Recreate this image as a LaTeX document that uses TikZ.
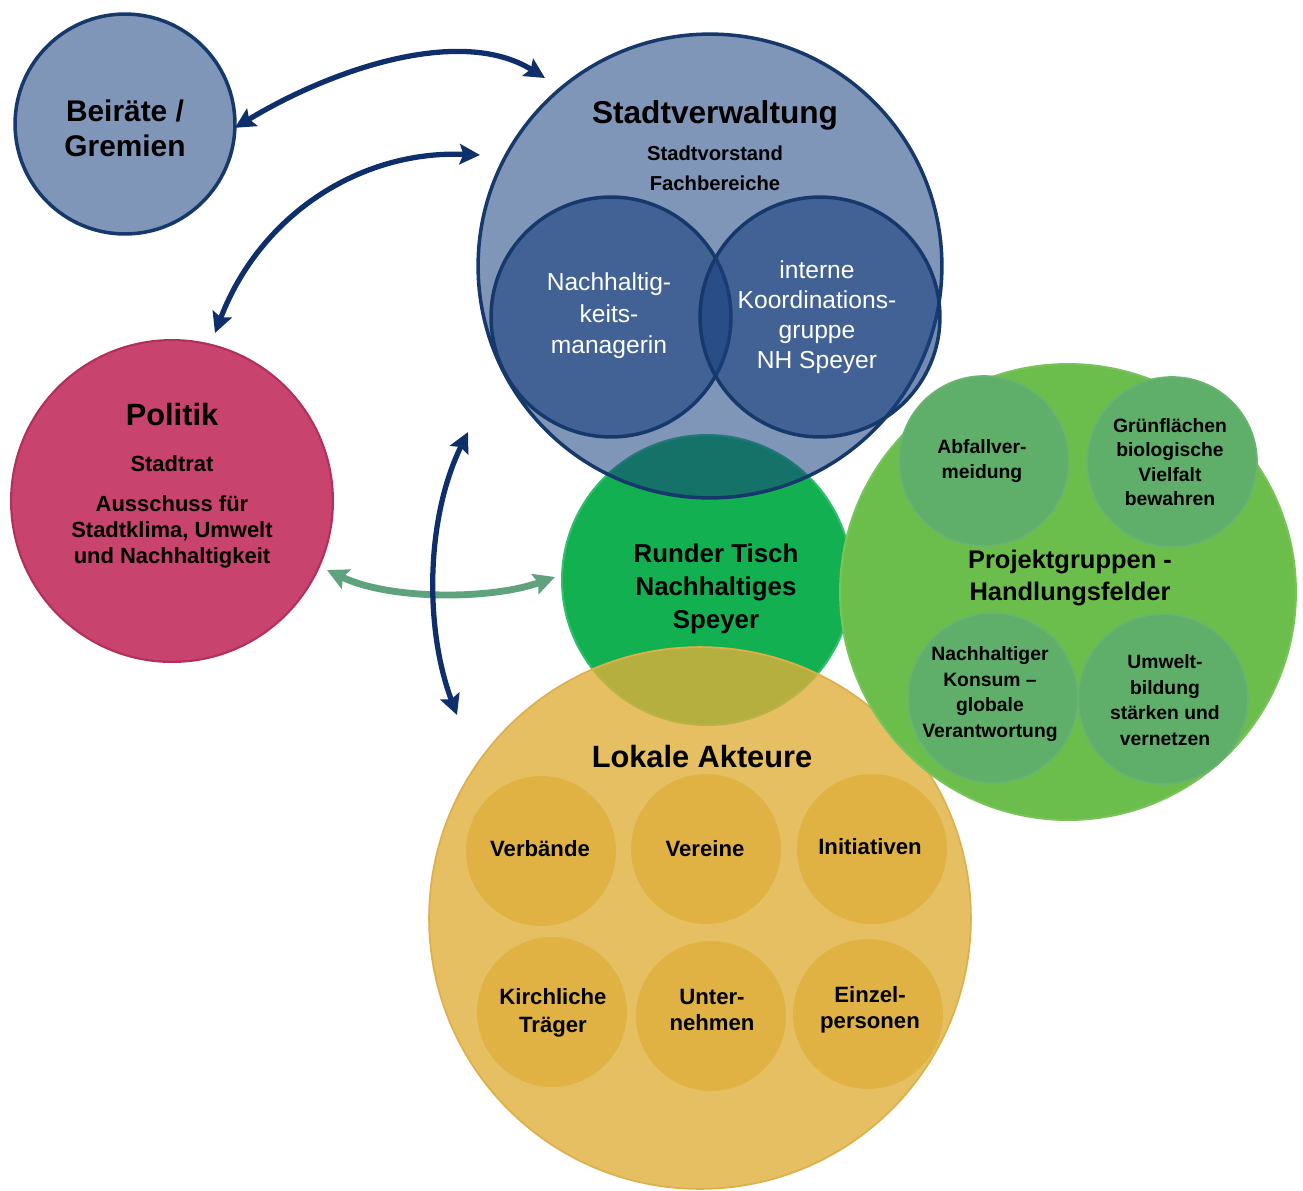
\documentclass[tikz,border=0pt]{standalone}
\usepackage{fontspec}
\setmainfont{Liberation Sans}
\usetikzlibrary{arrows.meta}
\definecolor{navy}{HTML}{17386B}
\definecolor{arrnavy}{HTML}{0E2F6B}
\definecolor{svfill}{HTML}{18407E}
\definecolor{beifill}{HTML}{7F96B8}
\definecolor{polfill}{HTML}{C8436E}
\definecolor{poldraw}{HTML}{B2305C}
\definecolor{rtfill}{HTML}{12B050}
\definecolor{rtdraw}{HTML}{30BE6E}
\definecolor{pgfillc}{HTML}{6CBE4C}
\definecolor{pgdraw}{HTML}{78C35A}
\definecolor{pgsmall}{HTML}{5FAF6A}
\definecolor{pgsmalldraw}{HTML}{69B46F}
\definecolor{lafill}{HTML}{DEAF3B}
\definecolor{ladraw}{HTML}{DDB04C}
\definecolor{greenarr}{HTML}{5FA37E}
\tikzset{
  circ/.style={circle, inner sep=0pt, outer sep=0pt, minimum size=#1*0.04cm},
  txt/.style={align=center, text=black, inner sep=0pt},
  navyarrow/.style={draw=arrnavy, line width=3pt,
     {Stealth[length=11.5pt,width=11.5pt,inset=2pt]}-{Stealth[length=11.5pt,width=11.5pt,inset=2pt]}},
  greenarrow/.style={draw=greenarr, line width=3.9pt,
     {Stealth[length=12pt,width=12pt,inset=2pt]}-{Stealth[length=12pt,width=12pt,inset=2pt]}},
}
\begin{document}
\begin{tikzpicture}[x=0.02cm,y=-0.02cm]
\useasboundingbox (0,0) rectangle (1303,1191);

% Runder Tisch
\node[circ=145, fill=rtfill, draw=rtdraw, line width=1.2pt] (rt) at (707,580) {};

% Lokale Akteure
\node[circ=271, fill=lafill, fill opacity=0.8, draw=ladraw, line width=1pt] (la) at (700,918) {};
\foreach \n/\x/\y in {la1/541/851, la2/706/849, la3/872/849, la4/552/1012, la5/711/1016, la6/868/1014}{
  \node[circ=75, fill=lafill, fill opacity=0.8] (\n) at (\x,\y) {};
}

% Projektgruppen
\node[circ=228, fill=pgfillc, draw=pgdraw, line width=1.2pt] (pg) at (1068,592) {};
\foreach \n/\x/\y in {pg1/984/461, pg2/1172/462, pg3/993/698, pg4/1163/699}{
  \node[circ=85, fill=pgsmall, draw=pgsmalldraw, line width=1pt] (\n) at (\x,\y) {};
}

% Stadtverwaltung
\node[circ=232, fill=svfill, fill opacity=0.55, draw=navy, line width=2pt] (sv) at (710,266) {};
\node[circ=120, fill=svfill, fill opacity=0.6, draw=navy, line width=2pt] (nm) at (611,317) {};
\node[circ=120, fill=svfill, fill opacity=0.6, draw=navy, line width=2pt] (kg) at (820,317) {};

% Beiraete
\node[circ=110, fill=beifill, draw=navy, line width=2pt] (bei) at (125,124) {};
% Politik
\node[circ=161, fill=polfill, draw=poldraw, line width=1.2pt] (pol) at (172,501) {};

% Texts
\node[txt, font=\bfseries\fontsize{17}{19.8}\selectfont] (beit) at (125,128) {Beiräte /\\Gremien};
\node[txt, font=\bfseries\fontsize{18}{20}\selectfont] (svt) at (715,115) {Stadtverwaltung};
\node[txt, font=\bfseries\fontsize{11.5}{17}\selectfont] (svs) at (715,168) {Stadtvorstand\\Fachbereiche};
\node[txt, text=white, font=\fontsize{14}{18}\selectfont] (nmt) at (609,316) {Nachhaltig-\\keits-\\managerin};
\node[txt, text=white, font=\fontsize{14}{17}\selectfont] (kgt) at (817,317) {interne\\Koordinations-\\gruppe\\NH Speyer};
\node[txt, font=\bfseries\fontsize{17.5}{20}\selectfont] (polt) at (172,415) {Politik};
\node[txt, font=\bfseries\fontsize{12.5}{14.7}\selectfont] (pols) at (172,464) {Stadtrat};
\node[txt, font=\bfseries\fontsize{12.5}{14.7}\selectfont] (pola) at (172,532) {Ausschuss für\\Stadtklima, Umwelt\\und Nachhaltigkeit};
\node[txt, font=\bfseries\fontsize{14.7}{18.7}\selectfont] (rtt) at (716,589) {Runder Tisch\\Nachhaltiges\\Speyer};
\node[txt, font=\bfseries\fontsize{14.5}{18}\selectfont] (pgt) at (1070,578) {Projektgruppen -\\Handlungsfelder};
\node[txt, font=\bfseries\fontsize{11}{14.7}\selectfont] (pg1t) at (982,461) {Abfallver-\\meidung};
\node[txt, font=\bfseries\fontsize{11}{13.9}\selectfont] (pg2t) at (1170,462) {Grünflächen\\biologische\\Vielfalt\\bewahren};
\node[txt, font=\bfseries\fontsize{11}{14.5}\selectfont] (pg3t) at (990,694) {Nachhaltiger\\Konsum –\\globale\\Verantwortung};
\node[txt, font=\bfseries\fontsize{11}{14.5}\selectfont] (pg4t) at (1165,700) {Umwelt-\\bildung\\stärken und\\vernetzen};
\node[txt, font=\bfseries\fontsize{17.5}{20}\selectfont] (lat) at (702,756) {Lokale Akteure};
\node[txt, font=\bfseries\fontsize{12.6}{15.3}\selectfont] (la1t) at (540,849) {Verbände};
\node[txt, font=\bfseries\fontsize{12.6}{15.3}\selectfont] (la2t) at (705,849) {Vereine};
\node[txt, font=\bfseries\fontsize{12.6}{15.3}\selectfont] (la3t) at (870,847) {Initiativen};
\node[txt, font=\bfseries\fontsize{12.6}{16}\selectfont] (la4t) at (553,1013) {Kirchliche\\Träger};
\node[txt, font=\bfseries\fontsize{12.6}{15}\selectfont] (la5t) at (712,1010) {Unter-\\nehmen};
\node[txt, font=\bfseries\fontsize{12.6}{15}\selectfont] (la6t) at (870,1010) {Einzel-\\personen};

% arrow ends
\coordinate (a1e) at (545,78);
\coordinate (a2s) at (480,155);
\coordinate (a2e) at (215,333);
\coordinate (a3s) at (468,432);
\coordinate (a3e) at (457,715);
\coordinate (g1s) at (327,570);
\coordinate (g1e) at (555,577);

% arrows
\draw[greenarrow] (g1s) .. controls (390,600) and (490,600) .. (g1e);
\draw[navyarrow] (bei.-2) .. controls (330,70) and (460,25) .. (a1e);
\draw[navyarrow] (a2s) .. controls (360,150) and (260,215) .. (a2e);
\draw[navyarrow] (a3s) .. controls (425,520) and (425,630) .. (a3e);
\end{tikzpicture}
\end{document}
